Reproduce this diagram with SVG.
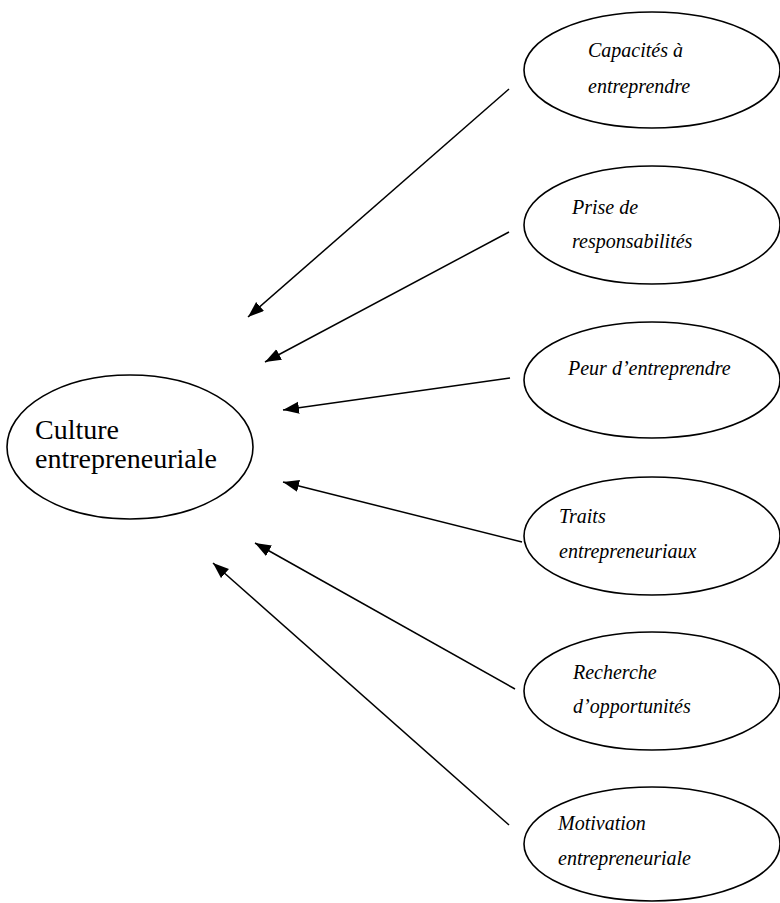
<svg xmlns="http://www.w3.org/2000/svg" width="780" height="903" viewBox="0 0 780 903">
<style>
.node ellipse{fill:#fff;stroke:#000;stroke-width:1.6}
.lbl{font-family:"Liberation Serif","Times New Roman",serif;font-style:italic;font-size:20px;fill:#000}
.main{font-family:"Liberation Serif","Times New Roman",serif;font-size:28px;fill:#000}
.conn line{stroke:#000;stroke-width:1.5;marker-end:url(#ah)}
</style>
<defs>
<marker id="ah" markerUnits="userSpaceOnUse" markerWidth="18" markerHeight="14" refX="16" refY="6" orient="auto">
<path d="M0,0 L16,6 L0,12 Z" fill="#000"/>
</marker>
</defs>
<rect width="780" height="903" fill="#fff"/>
<g id="culture" class="node">
<ellipse cx="130" cy="447" rx="123" ry="72"/>
<text class="main" x="35" y="439">Culture</text>
<text class="main" x="35" y="468">entrepreneuriale</text>
</g>
<g id="capacites" class="node">
<ellipse cx="652" cy="70" rx="128" ry="58"/>
<text class="lbl" x="588" y="57">Capacités à</text>
<text class="lbl" x="588" y="93">entreprendre</text>
</g>
<g id="prise" class="node">
<ellipse cx="652" cy="225" rx="128" ry="59"/>
<text class="lbl" x="572" y="214">Prise de</text>
<text class="lbl" x="572" y="248">responsabilités</text>
</g>
<g id="peur" class="node">
<ellipse cx="652" cy="380" rx="128" ry="58"/>
<text class="lbl" x="568" y="375">Peur d’entreprendre</text>
</g>
<g id="traits" class="node">
<ellipse cx="652" cy="536" rx="128" ry="59"/>
<text class="lbl" x="559" y="523">Traits</text>
<text class="lbl" x="559" y="558">entrepreneuriaux</text>
</g>
<g id="recherche" class="node">
<ellipse cx="652" cy="691" rx="128" ry="59"/>
<text class="lbl" x="573" y="679">Recherche</text>
<text class="lbl" x="573" y="713">d’opportunités</text>
</g>
<g id="motivation" class="node">
<ellipse cx="652" cy="844" rx="128" ry="57"/>
<text class="lbl" x="558" y="830">Motivation</text>
<text class="lbl" x="558" y="865">entrepreneuriale</text>
</g>
<g id="connectors" class="conn">
<line x1="509" y1="89" x2="248" y2="317"/>
<line x1="509" y1="232" x2="265" y2="362"/>
<line x1="510" y1="378" x2="283" y2="410"/>
<line x1="522" y1="542" x2="283" y2="482"/>
<line x1="515" y1="689" x2="255" y2="543"/>
<line x1="509" y1="825" x2="213" y2="563"/>
</g>
</svg>
